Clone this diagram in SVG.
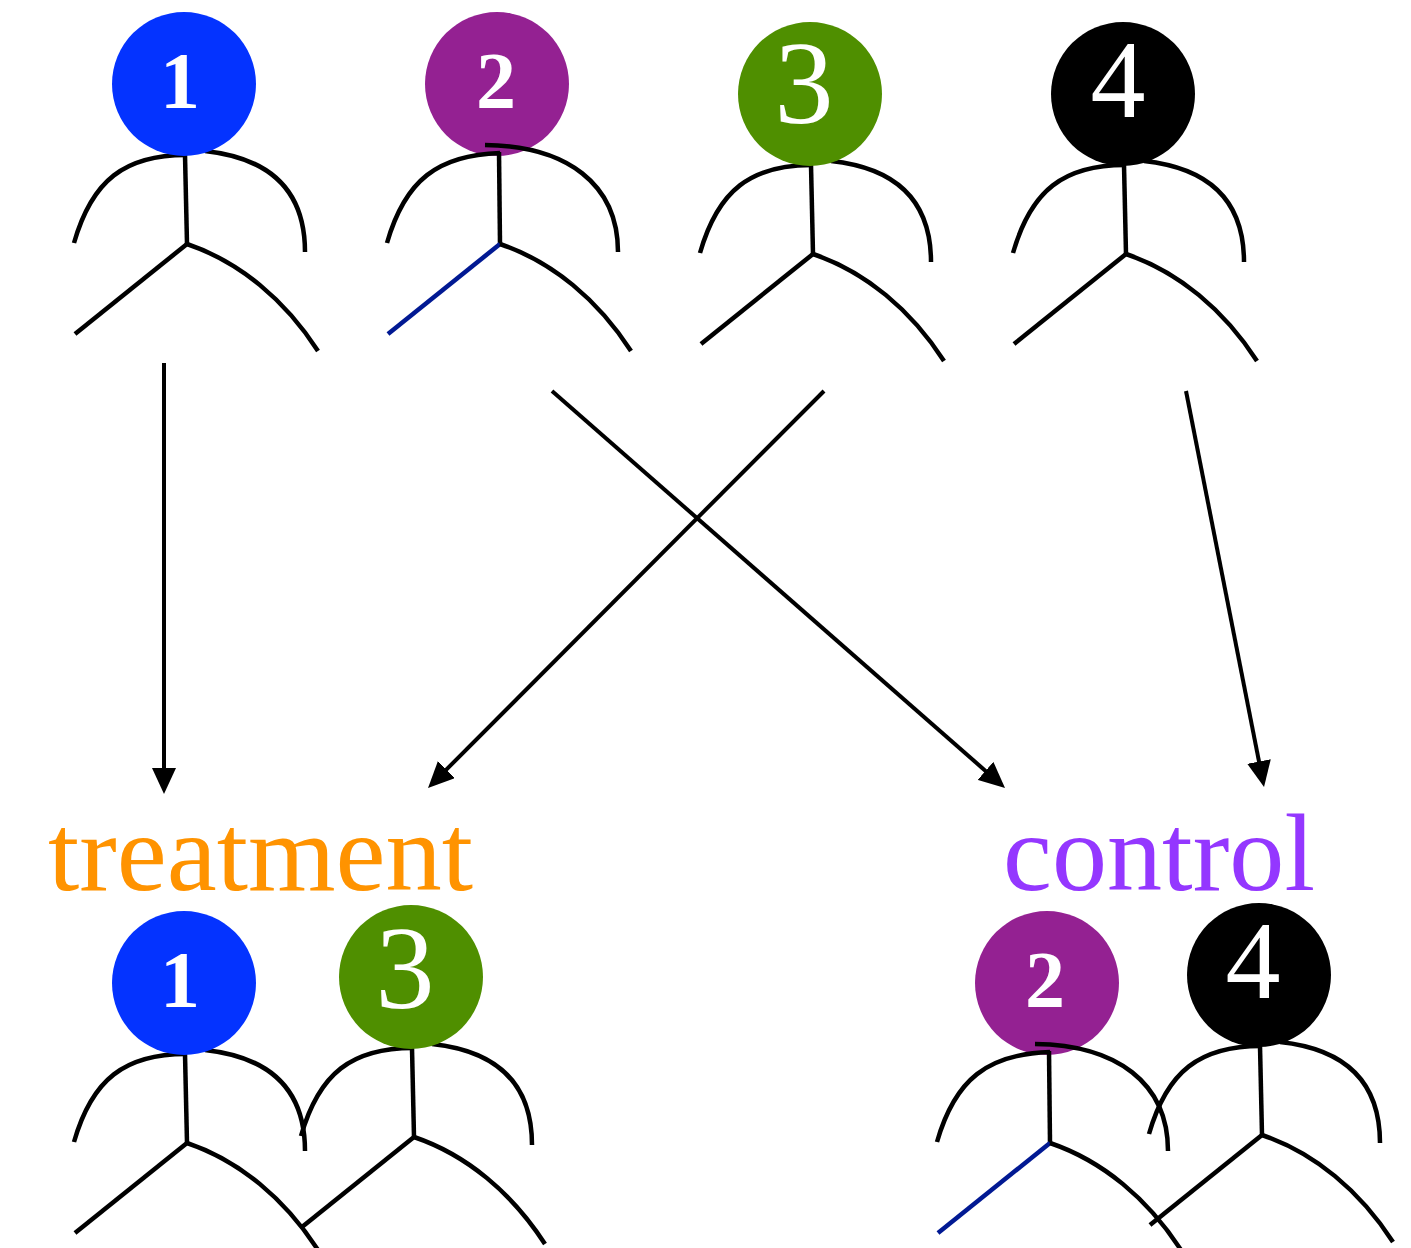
<svg xmlns="http://www.w3.org/2000/svg" width="1411" height="1248" viewBox="0 0 1411 1248">
  <defs>
    <style>
      .limb { fill: none; stroke: #000; stroke-width: 4.5; }
      .blue-leg { stroke: #011993; }
      .num { fill: #fff; font-family: "Liberation Serif", serif; text-anchor: middle; }
      .small { font-size: 80px; font-weight: bold; }
      .conn { fill: none; stroke: #000; stroke-width: 4; }
      .group-label { font-family: "Liberation Serif", serif; font-size: 110px; }
    </style>
    <marker id="arrow" markerUnits="userSpaceOnUse" markerWidth="26" markerHeight="24" viewBox="0 0 26 24" refX="16" refY="12" orient="auto">
      <path d="M0,0 L26,12 L0,24 Z" fill="#000"/>
    </marker>
    <!-- stick body, coordinates relative to the head centre -->
    <g id="body">
      <path class="limb" d="M-110,159 C-92,96 -59,71 2,71"/>
      <path class="limb" d="M21,67 C86,74 121,106 121,168"/>
      <path class="limb" d="M1,71 L3,160"/>
      <path class="limb" d="M3,160 L-109,250"/>
      <path class="limb" d="M3,160 C56,178 101,216 134,267"/>
    </g>
    <!-- variant body with blue left leg and a longer right arm -->
    <g id="body-alt">
      <path class="limb" d="M-110,159 C-92,96 -59,71 3,69"/>
      <path class="limb" d="M-12,61 C70,62 121,100 121,168"/>
      <path class="limb" d="M2,68 L3,160"/>
      <path class="limb blue-leg" d="M3,160 L-109,250"/>
      <path class="limb" d="M3,160 C56,178 101,216 134,267"/>
    </g>
  </defs>
  <rect width="1411" height="1248" fill="#fff"/>

  <!-- top row -->
  <g id="person-1">
    <use href="#body" transform="translate(184,84)"/>
    <circle cx="184" cy="84" r="72" fill="#0433FF"/>
    <text class="num small" x="180" y="108">1</text>
  </g>
  <g id="person-2">
    <circle cx="497" cy="84" r="72" fill="#942192"/>
    <use href="#body-alt" transform="translate(497,84)"/>
    <text class="num small" x="496" y="108">2</text>
  </g>
  <g id="person-3">
    <use href="#body" transform="translate(810,94)"/>
    <circle cx="810" cy="94" r="72" fill="#4F8F00"/>
    <text class="num" x="804" y="123" font-size="118">3</text>
  </g>
  <g id="person-4">
    <use href="#body" transform="translate(1123,94)"/>
    <circle cx="1123" cy="94" r="72" fill="#000"/>
    <text class="num" x="1118" y="117" font-size="110">4</text>
  </g>

  <!-- assignment arrows -->
  <g id="connectors">
    <line class="conn" x1="164" y1="363" x2="164" y2="784" marker-end="url(#arrow)"/>
    <line class="conn" x1="552" y1="391" x2="997.5" y2="781.4" marker-end="url(#arrow)"/>
    <line class="conn" x1="824" y1="391" x2="435.1" y2="780.9" marker-end="url(#arrow)"/>
    <line class="conn" x1="1186" y1="391" x2="1262.1" y2="777.2" marker-end="url(#arrow)"/>
  </g>

  <!-- group labels -->
  <g id="label-treatment">
    <text class="group-label" x="48" y="890" fill="#FF9300" textLength="425" lengthAdjust="spacingAndGlyphs">treatment</text>
  </g>
  <g id="label-control">
    <text class="group-label" x="1003" y="890" fill="#9437FF" textLength="312" lengthAdjust="spacingAndGlyphs">control</text>
  </g>

  <!-- treatment group -->
  <g id="treatment-1">
    <use href="#body" transform="translate(184,983)"/>
    <circle cx="184" cy="983" r="72" fill="#0433FF"/>
    <text class="num small" x="180" y="1007">1</text>
  </g>
  <g id="treatment-3">
    <use href="#body" transform="translate(411,977)"/>
    <circle cx="411" cy="977" r="72" fill="#4F8F00"/>
    <text class="num" x="405" y="1008" font-size="118">3</text>
  </g>

  <!-- control group -->
  <g id="control-2">
    <circle cx="1047" cy="983" r="72" fill="#942192"/>
    <use href="#body-alt" transform="translate(1047,983)"/>
    <text class="num small" x="1045" y="1007">2</text>
  </g>
  <g id="control-4">
    <use href="#body" transform="translate(1259,975)"/>
    <circle cx="1259" cy="975" r="72" fill="#000"/>
    <text class="num" x="1253" y="998" font-size="110">4</text>
  </g>
</svg>
